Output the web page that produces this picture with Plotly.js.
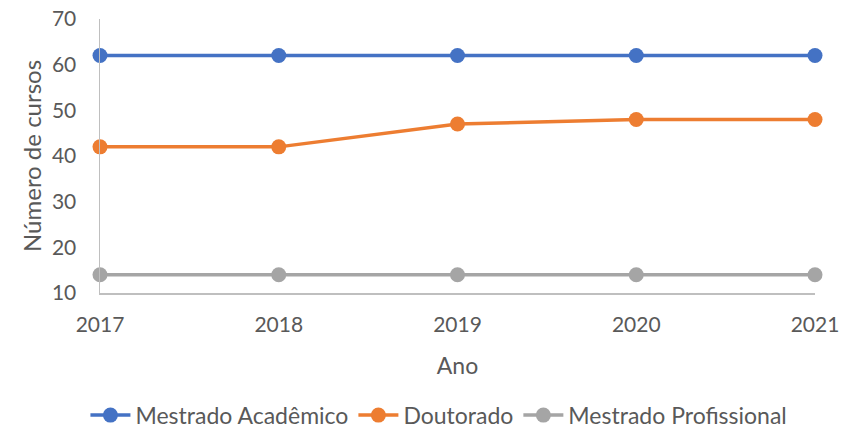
<!DOCTYPE html>
<html>
<head>
<meta charset="utf-8">
<script src="https://cdn.plot.ly/plotly-3.0.1.min.js"></script>
<style>html,body{margin:0;padding:0;background:#fff;}#chart{width:849px;height:428px;}</style>
</head>
<body>
<div id="chart"></div>
<script>
const years = [2017, 2018, 2019, 2020, 2021];
const mestradoAcademico = [62, 62, 62, 62, 62];
const doutorado = [42, 42, 47, 48, 48];
const mestradoProfissional = [14, 14, 14, 14, 14];
const seriesNames = ["Mestrado Acadêmico", "Doutorado", "Mestrado Profissional"];
const colors = ["#4472C4", "#ED7D31", "#A5A5A5"];
const yTicks = [10, 20, 30, 40, 50, 60, 70];

const font = "Lato, 'Open Sans', sans-serif";
const data = [mestradoAcademico, doutorado, mestradoProfissional].map((vals, i) => ({
  x: years, y: vals, name: seriesNames[i], type: "scatter", mode: "lines+markers",
  line: {color: colors[i], width: 3.5},
  marker: {color: colors[i], size: 15},
  cliponaxis: false
}));

const layout = {
  width: 849, height: 428,
  margin: {l: 100, r: 34, t: 19, b: 135, autoexpand: false},
  paper_bgcolor: "#fff", plot_bgcolor: "#fff",
  font: {family: font, size: 21, color: "#595959"},
  showlegend: true,
  legend: {orientation: "h", xref: "container", yref: "container", x: 0.517, xanchor: "center",
           y: 0.03, yanchor: "middle",
           font: {family: font, size: 23, color: "#595959"}, itemwidth: 40, tracegroupgap: 0},
  xaxis: {
    range: [2017, 2021], tickvals: years, ticktext: years.map(String),
    showgrid: false, zeroline: false, showline: true, linecolor: "#BFBFBF", linewidth: 1.5,
    ticks: "outside", ticklen: 12, tickcolor: "rgba(0,0,0,0)",
    tickfont: {family: font, size: 21, color: "#595959"},
    title: {text: "Ano", font: {family: font, size: 23, color: "#595959"}, standoff: 23}
  },
  yaxis: {
    range: [10, 70], tickvals: yTicks,
    showgrid: false, zeroline: false, showline: true, linecolor: "#BFBFBF", linewidth: 1.5,
    ticks: "outside", ticklen: 18, tickcolor: "rgba(0,0,0,0)",
    tickfont: {family: font, size: 21, color: "#595959"},
    title: {text: "Número de cursos", font: {family: font, size: 24, color: "#595959"}, standoff: 3}
  }
};
Plotly.newPlot("chart", data, layout, {displayModeBar: false, staticPlot: true});
</script>
</body>
</html>
